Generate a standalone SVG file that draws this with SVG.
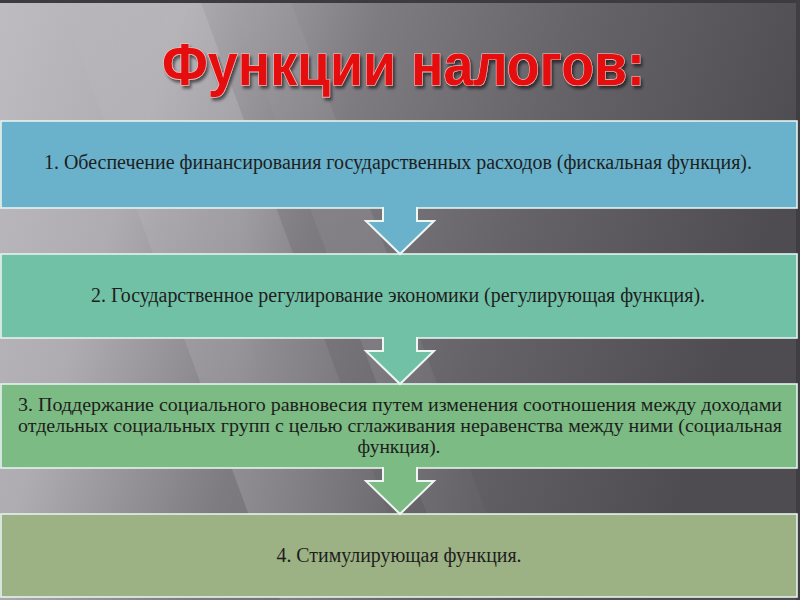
<svg xmlns="http://www.w3.org/2000/svg" width="800" height="600" viewBox="0 0 800 600">
  <defs>
    <linearGradient id="bg" x1="0" y1="0" x2="1" y2="0.25">
      <stop offset="0" stop-color="#bebcc1"/>
      <stop offset="0.22" stop-color="#aeacb1"/>
      <stop offset="0.45" stop-color="#7e7c81"/>
      <stop offset="0.7" stop-color="#656368"/>
      <stop offset="1" stop-color="#4e4c51"/>
    </linearGradient>
    <linearGradient id="streak" x1="0" y1="0" x2="1" y2="0">
      <stop offset="0" stop-color="#ffffff" stop-opacity="0"/>
      <stop offset="0.5" stop-color="#ffffff" stop-opacity="0.14"/>
      <stop offset="1" stop-color="#ffffff" stop-opacity="0"/>
    </linearGradient>
    <filter id="shadow" x="-10%" y="-30%" width="120%" height="160%">
      <feDropShadow dx="2" dy="3" stdDeviation="1.8" flood-color="#000" flood-opacity="0.55"/>
    </filter>
  </defs>
  <style>
    .box { stroke: #e4f3ef; stroke-width: 1.6; }
    .arrow { stroke: #eef6f2; stroke-width: 2; stroke-linejoin: miter; }
    .txt { font-family: "Liberation Serif", "Times New Roman", serif; font-size: 20px; fill: #1e1e1e; text-anchor: middle; }
    .txt3 { font-size: 19px; }
    .title { font-family: "Liberation Sans", Arial, sans-serif; font-weight: bold; font-size: 59px; fill: #e50d0d; stroke: #f6c6c2; stroke-width: 1.2; paint-order: stroke; }
  </style>

  <!-- background -->
  <rect x="0" y="0" width="800" height="600" fill="url(#bg)"/>
  <polygon points="60,0 200,0 420,600 280,600" fill="url(#streak)"/>
  <polygon points="230,0 290,0 520,600 460,600" fill="url(#streak)" opacity="0.6"/>
  <rect x="0" y="0" width="800" height="3" fill="#3c3b3e"/>
  <rect x="796" y="0" width="4" height="600" fill="#3f3e42"/>

  <g id="title" filter="url(#shadow)">
    <text class="title" x="162" y="85" textLength="483" lengthAdjust="spacingAndGlyphs">Функции налогов:</text>
  </g>

  <g id="node1">
    <rect class="box" x="1" y="121" width="796" height="87" fill="#6ab2cb"/>
    <text class="txt" x="398" y="169" textLength="708" lengthAdjust="spacingAndGlyphs">1. Обеспечение финансирования государственных расходов (фискальная функция).</text>
  </g>
  <g id="node2">
    <rect class="box" x="1" y="254" width="796" height="84" fill="#71c1a6"/>
    <text class="txt" x="398" y="302" textLength="614" lengthAdjust="spacingAndGlyphs">2. Государственное регулирование экономики (регулирующая функция).</text>
  </g>
  <g id="node3">
    <rect class="box" x="1" y="384" width="796" height="84" fill="#7cbb83"/>
    <text class="txt txt3" x="400" y="411" textLength="764" lengthAdjust="spacingAndGlyphs">3. Поддержание социального равновесия путем изменения соотношения между доходами</text>
    <text class="txt txt3" x="400" y="432" textLength="764" lengthAdjust="spacingAndGlyphs">отдельных социальных групп с целью сглаживания неравенства между ними (социальная</text>
    <text class="txt txt3" x="399" y="453" textLength="83" lengthAdjust="spacingAndGlyphs">функция).</text>
  </g>
  <g id="node4">
    <rect class="box" x="1" y="514" width="796" height="83" fill="#9cb284"/>
    <text class="txt" x="399" y="562" textLength="245" lengthAdjust="spacingAndGlyphs">4. Стимулирующая функция.</text>
  </g>

  <g id="connectors">
    <path class="arrow" d="M383,207 V221 H366 L400,254 L434,221 H417 V207" fill="#6ab2cb"/>
    <path class="arrow" d="M383,337 V351 H366 L400,384 L434,351 H417 V337" fill="#71c1a6"/>
    <path class="arrow" d="M383,467 V481 H366 L400,514 L434,481 H417 V467" fill="#7cbb83"/>
  </g>
</svg>
